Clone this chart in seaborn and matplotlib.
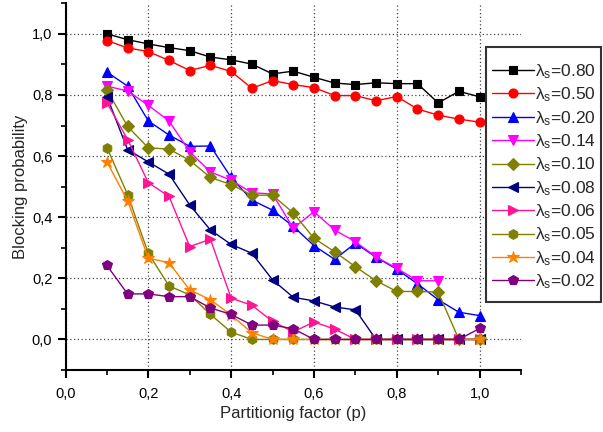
import numpy as np
import pandas as pd
import matplotlib
matplotlib.use("Agg")
import matplotlib.pyplot as plt
from matplotlib.patches import Rectangle
from matplotlib.ticker import MultipleLocator, FixedLocator, FixedFormatter
import seaborn as sns

# ---------------- data ----------------
p_full = [0.10, 0.15, 0.20, 0.25, 0.30, 0.35, 0.40, 0.45, 0.50, 0.55,
          0.60, 0.65, 0.70, 0.75, 0.80, 0.85, 0.90, 0.95, 1.00]

lam_080 = [1.000, 0.981, 0.967, 0.955, 0.945, 0.924, 0.915, 0.901, 0.869, 0.878,
           0.858, 0.839, 0.834, 0.840, 0.837, 0.837, 0.774, 0.812, 0.794]
lam_050 = [0.978, 0.954, 0.942, 0.913, 0.880, 0.897, 0.877, 0.822, 0.847, 0.834,
           0.824, 0.798, 0.798, 0.781, 0.795, 0.754, 0.734, 0.721, 0.711]
lam_020 = [0.875, 0.829, 0.715, 0.669, 0.632, 0.633, 0.530, 0.456, 0.423, 0.370,
           0.307, 0.262, 0.315, 0.269, 0.230, 0.182, 0.130, 0.089, 0.078]
lam_014 = [0.829, 0.813, 0.766, 0.715, 0.614, 0.548, 0.521, 0.480, 0.476, 0.364,
           0.418, 0.358, 0.320, 0.270, 0.233, 0.192, 0.192]
lam_010 = [0.817, 0.697, 0.627, 0.623, 0.586, 0.530, 0.507, 0.472, 0.472, 0.414,
           0.331, 0.287, 0.238, 0.192, 0.157, 0.157, 0.155, 0.000, 0.000]
lam_008 = [0.795, 0.621, 0.581, 0.541, 0.440, 0.358, 0.311, 0.282, 0.195, 0.138,
           0.126, 0.106, 0.097, 0.000, 0.000, 0.000, 0.000, 0.000, 0.000]
lam_006 = [0.775, 0.654, 0.513, 0.468, 0.304, 0.328, 0.135, 0.112, 0.059, 0.025,
           0.057, 0.034, 0.000, 0.000, 0.000, 0.000, 0.000, 0.000, 0.000]
lam_005 = [0.628, 0.474, 0.282, 0.175, 0.146, 0.082, 0.024, 0.000, 0.000, 0.000,
           0.000, 0.000, 0.000, 0.000, 0.000, 0.000, 0.000, 0.000, 0.000]
lam_004 = [0.581, 0.454, 0.266, 0.251, 0.162, 0.130, 0.080, 0.022, 0.000, 0.000,
           0.000, 0.000, 0.000, 0.000, 0.000, 0.000, 0.000, 0.000, 0.000]
lam_002 = [0.242, 0.149, 0.149, 0.140, 0.140, 0.103, 0.082, 0.047, 0.047, 0.035,
           0.000, 0.000, 0.000, 0.000, 0.000, 0.000, 0.000, 0.000, 0.036]

series_labels = ["0.80", "0.50", "0.20", "0.14", "0.10",
                 "0.08", "0.06", "0.05", "0.04", "0.02"]
series_values = [lam_080, lam_050, lam_020, lam_014, lam_010,
                 lam_008, lam_006, lam_005, lam_004, lam_002]

x_ticks = [0.0, 0.2, 0.4, 0.6, 0.8, 1.0]
x_tick_labels = ["0,0", "0,2", "0,4", "0,6", "0,8", "1,0"]
y_ticks = [0.0, 0.2, 0.4, 0.6, 0.8, 1.0]
y_tick_labels = ["0,0", "0,2", "0,4", "0,6", "0,8", "1,0"]

# ---------------- style ----------------
colors = ["#000000", "#FF0000", "#0000FF", "#FF00FF", "#808000",
          "#000080", "#FF1493", "#808000", "#FF8000", "#800080"]
markers = ["s", "o", "^", "v", "D", "<", ">", "h", "*", "p"]
msizes = [6, 6.5, 7.2, 7.2, 6.3, 7.2, 7.2, 7, 9, 7.2]

sns.set_style("ticks")
plt.rcParams["font.family"] = ["Liberation Sans", "DejaVu Sans"]
plt.rcParams["mathtext.fontset"] = "custom"
plt.rcParams["mathtext.rm"] = "Liberation Sans"
plt.rcParams["mathtext.it"] = "Liberation Sans"

fig = plt.figure(figsize=(6.03, 4.32), dpi=100)
ax = fig.add_axes([65.5 / 603, 1 - 370 / 432, (521 - 65.5) / 603, (370 - 3.3) / 432])

for lab, vals, c, m, ms in zip(series_labels, series_values, colors, markers, msizes):
    xs = p_full[:len(vals)]
    df = pd.DataFrame({"p": xs, "B": vals})
    sns.lineplot(data=df, x="p", y="B", ax=ax, color=c, marker=m, markersize=ms,
                 markeredgecolor=c, markeredgewidth=0.8, linewidth=1.0,
                 label=r"λ$_\mathrm{s}$=" + lab, estimator=None, sort=False,
                 clip_on=False, zorder=3)

ax.set_xlim(0, 1.1)
ax.set_ylim(-0.1, 1.1)
ax.xaxis.set_major_locator(FixedLocator(x_ticks))
ax.xaxis.set_major_formatter(FixedFormatter(x_tick_labels))
ax.yaxis.set_major_locator(FixedLocator(y_ticks))
ax.yaxis.set_major_formatter(FixedFormatter(y_tick_labels))
ax.xaxis.set_minor_locator(MultipleLocator(0.1))
ax.yaxis.set_minor_locator(MultipleLocator(0.1))

ax.grid(True, which="major", color="#444444", linestyle=(0, (1, 2)), linewidth=0.9)
ax.set_axisbelow(True)

for s in ["top", "right"]:
    ax.spines[s].set_visible(False)
for s in ["left", "bottom"]:
    ax.spines[s].set_linewidth(1.5)
    ax.spines[s].set_color("black")

ax.tick_params(which="major", direction="out", length=6, width=1.5, labelsize=10.5,
               colors="black")
ax.tick_params(axis="x", which="major", pad=6)
ax.tick_params(which="minor", direction="out", length=3.5, width=1.2, colors="black")

ax.set_xlabel("Partitionig factor (p)", fontsize=12, labelpad=4)
ax.set_ylabel("Blocking probability", fontsize=12, labelpad=3)

leg = ax.legend(loc="upper left", bbox_to_anchor=(486 / 603, 1 - 56 / 432),
                bbox_transform=fig.transFigure, borderaxespad=0, fontsize=12.5,
                frameon=False, handlelength=2.4, handletextpad=0.1,
                labelspacing=0.27, borderpad=0.35)
leg.set_zorder(10)

frame = Rectangle((486 / 603, 1 - 301.7 / 432), 115 / 603, 254.4 / 432,
                  transform=fig.transFigure, fill=True, facecolor="white",
                  edgecolor="#333333", linewidth=1.5, zorder=8, clip_on=False)
ax.add_patch(frame)

fig.savefig("out.png", dpi=100)
